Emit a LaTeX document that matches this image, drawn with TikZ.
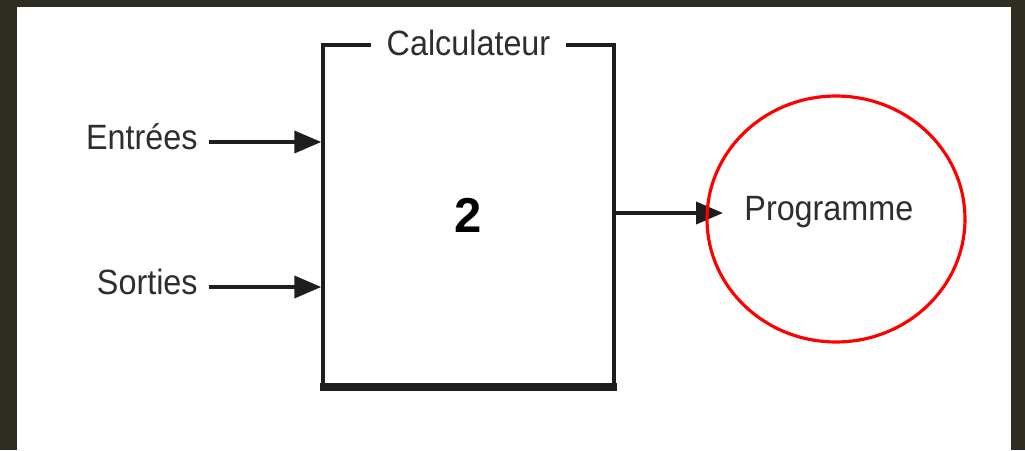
\documentclass[tikz,border=0pt]{standalone}
\usepackage{fontspec}
\setmainfont{Liberation Sans}
\usepackage{xcolor}
\usepackage{graphicx}
\usepackage{tikz}
\usetikzlibrary{arrows.meta, shapes.geometric}

\definecolor{frame}{RGB}{47,44,33}
\definecolor{ink}{RGB}{30,30,30}
\newcommand{\narrow}[1]{\raisebox{-1.6pt}{\scalebox{0.92}[1]{#1}}}

\begin{document}
\begin{tikzpicture}[x=0.02cm, y=-0.02cm, >={Triangle[length=0.54cm, width=0.44cm]},
  font=\fontsize{20}{24}\selectfont, text=black!82,
  calcbox/.style={draw=ink, line width=2pt, minimum width=5.82cm, minimum height=6.8cm, inner sep=0pt},
  lbl/.style={inner ysep=2pt},
  arr/.style={->, draw=ink, line width=2.2pt}]
  % background and frame
  \fill[frame] (0,0) rectangle (1025,450);
  \fill[white] (17,7) rectangle (1011,450);
  \useasboundingbox (0,0) rectangle (1025,450);

  \node[calcbox] (calc) at (468.5,215) {\fontsize{27.9}{32}\selectfont\bfseries\color{black}2};
  \draw[ink, line width=4.5pt] ([xshift=-1pt]calc.south west) -- ([xshift=1pt]calc.south east);
  \node[lbl, fill=white, inner xsep=9pt] (calclbl) at (calc.north) {\narrow{Calculateur}};

  \node[lbl, anchor=mid east, inner xsep=6.3pt] (entrees) at (209,142) {\narrow{Entrées}};
  \node[lbl, anchor=mid east, inner xsep=6.3pt] (sorties) at (209,287) {\narrow{Sorties}};
  \node[lbl, anchor=mid west, inner xsep=12pt] (prog) at (723,213) {\narrow{Programme}};

  \draw[arr] (entrees.mid east) -- (entrees.mid east -| calc.west);
  \draw[arr] (sorties.mid east) -- (sorties.mid east -| calc.west);
  \draw[arr] (prog.mid west -| calc.east) -- (prog.mid west);

  % red ring round the output
  \node[ellipse, draw=red, line width=1.8pt, minimum width=5.16cm, minimum height=4.92cm, inner sep=0pt] (ring) at (836,219) {};
\end{tikzpicture}
\end{document}
